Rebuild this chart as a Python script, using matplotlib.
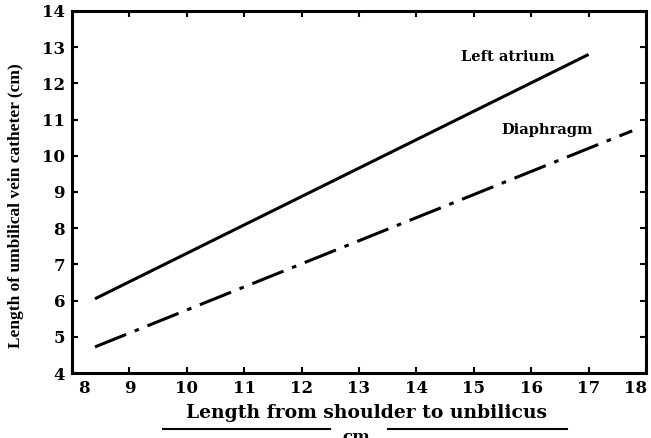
from matplotlib import pyplot as plt
from matplotlib.transforms import ScaledTranslation

# data
xLimits = [8, 18]
yLimits = [4, 14]
xTicks = [8, 9, 10, 11, 12, 13, 14, 15, 16, 17, 18]
yTicks = [4, 5, 6, 7, 8, 9, 10, 11, 12, 13, 14]

atriumX = [8.4, 17.0]
atriumY = [6.05, 12.8]
diaphragmX = [8.4, 17.76]
diaphragmY = [4.72, 10.69]

fig = plt.figure(figsize=(6.51, 4.38), dpi=100)
ax = fig.add_axes([72 / 651, 65 / 438, 574 / 651, 362 / 438])

ax.plot(atriumX, atriumY, color='black', lw=2.2, solid_capstyle='butt')
ax.plot(diaphragmX, diaphragmY, color='black', lw=2.2,
        dashes=(11, 3, 1.5, 3), dash_capstyle='butt')

serif = 'DejaVu Serif'
ax.text(15.6, 12.73, 'Left atrium', family=serif, weight='bold', fontsize=10.5,
        ha='center', va='center')
ax.text(16.28, 10.71, 'Diaphragm', family=serif, weight='bold', fontsize=10.5,
        ha='center', va='center')

ax.set_xlim(xLimits)
ax.set_ylim(yLimits)
ax.set_xticks(xTicks)
ax.set_yticks(yTicks)
ax.set_xticklabels([str(t) for t in xTicks], family=serif, weight='bold', fontsize=12)
ax.set_yticklabels([str(t) for t in yTicks], family=serif, weight='bold', fontsize=12)
ax.tick_params(direction='in', length=4, width=1.5, top=True, right=True, pad=5)
for s in ax.spines.values():
    s.set_linewidth(2.2)

# end labels sit a bit inside the frame in the reference
labels = ax.get_xticklabels()
labels[0].set_transform(labels[0].get_transform() + ScaledTranslation(12 / 100, 0, fig.dpi_scale_trans))
labels[-1].set_transform(labels[-1].get_transform() + ScaledTranslation(-10 / 100, 0, fig.dpi_scale_trans))

ax.set_ylabel('Length of umbilical vein catheter (cm)', family='Liberation Serif',
              weight='bold', fontsize=12.5)
ax.yaxis.set_label_coords(-0.083, 0.461)

# x label with the lines under it
fig.text(367 / 651, 1 - 413 / 438, 'Length from shoulder to unbilicus',
         family=serif, weight='bold', fontsize=13.5, ha='center', va='center')
fig.add_artist(plt.Line2D([163 / 651, 330 / 651], [1 - 429 / 438, 1 - 429 / 438],
                          color='black', lw=1.5))
fig.add_artist(plt.Line2D([388 / 651, 567 / 651], [1 - 429 / 438, 1 - 429 / 438],
                          color='black', lw=1.5))
fig.text(359 / 651, 1 - 438 / 438, 'cm.', family=serif, weight='bold',
         fontsize=12, ha='center', va='center')

fig.savefig('out.png', dpi=100)
